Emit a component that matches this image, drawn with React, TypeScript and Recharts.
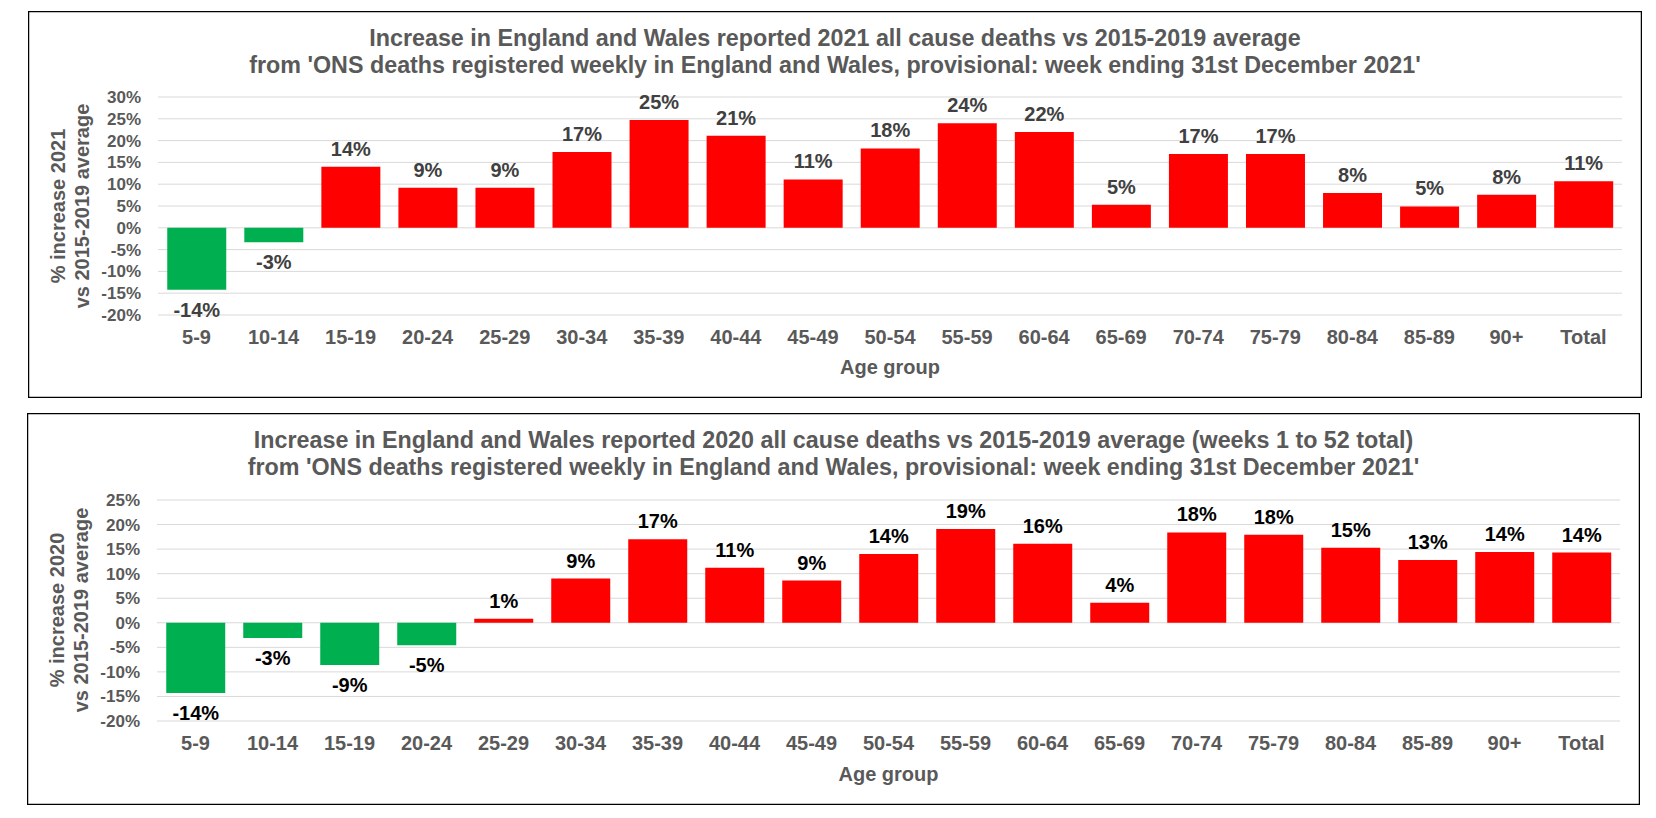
import React from "react";
import { BarChart, Bar, XAxis, YAxis, CartesianGrid, Cell, LabelList } from "recharts";

const ageGroups = [
  "5-9", "10-14", "15-19", "20-24", "25-29", "30-34", "35-39", "40-44", "45-49",
  "50-54", "55-59", "60-64", "65-69", "70-74", "75-79", "80-84", "85-89", "90+", "Total",
];

// % increase vs 2015-2019 average
const increase2021 = [
  -14.2, -3.3, 14.0, 9.2, 9.2, 17.4, 24.7, 21.1, 11.1,
  18.2, 24.0, 22.0, 5.3, 16.9, 16.9, 8.0, 4.9, 7.6, 10.7,
];
const increase2020 = [
  -14.3, -3.1, -8.6, -4.6, 0.8, 9.0, 17.0, 11.2, 8.6,
  14.0, 19.1, 16.1, 4.1, 18.4, 17.9, 15.3, 12.8, 14.4, 14.3,
];

const ticks2021 = [-20, -15, -10, -5, 0, 5, 10, 15, 20, 25, 30];
const ticks2020 = [-20, -15, -10, -5, 0, 5, 10, 15, 20, 25];

const FONT = '"Liberation Sans", Arial, sans-serif';
const GREY = "#595959";
const RED = "#FF0000";
const GREEN = "#00B050";

const makeLabel = (color: string) => (props: any) => {
  const vb = props.viewBox || props;
  const x = Number(vb.x), y = Number(vb.y);
  const w = Number(vb.width), h = Number(vb.height);
  const v = Number(props.value);
  const top = Math.min(y, y + h);
  const bottom = Math.max(y, y + h);
  const ty = v >= 0 ? top - 11 : bottom + 27;
  return (
    <text x={x + w / 2} y={ty} textAnchor="middle" fill={color}
      fontSize={20} fontWeight="bold" fontFamily={FONT}>
      {`${Math.round(v)}%`}
    </text>
  );
};

interface PanelProps {
  left: number; top: number; width: number; height: number;
  titles: string[];
  yTitle: string[];
  values: number[];
  ticks: number[];
  margin: { top: number; right: number; bottom: number; left: number };
  labelColor: string;
  yTitleY: number;
}

function Panel(p: PanelProps) {
  const data = ageGroups.map((age, i) => ({ age, value: p.values[i] }));
  const plotCx = 130 + (p.width - 130 - p.margin.right) / 2;
  return (
    <div style={{ position: "absolute", left: p.left, top: p.top, width: p.width, height: p.height }}>
      <div style={{ position: "absolute", left: 0, top: 0 }}>
        <BarChart width={p.width} height={p.height} data={data} margin={p.margin} barCategoryGap="12%">
          <CartesianGrid vertical={false} stroke="#D9D9D9" strokeWidth={1} />
          <XAxis
            dataKey="age"
            interval={0}
            axisLine={false}
            tickLine={false}
            tickMargin={9}
            height={40}
            tick={{ fontSize: 20, fontWeight: "bold", fill: GREY, fontFamily: FONT }}
          />
          <YAxis
            domain={[p.ticks[0], p.ticks[p.ticks.length - 1]]}
            ticks={p.ticks}
            interval={0}
            tickFormatter={(v: number) => `${v}%`}
            width={130}
            axisLine={false}
            tickLine={false}
            tickMargin={11}
            tick={{ fontSize: 17, fontWeight: "bold", fill: GREY, fontFamily: FONT }}
          />
          <Bar dataKey="value" isAnimationActive={false}>
            {data.map((d) => (
              <Cell key={d.age} fill={d.value < 0 ? GREEN : RED} />
            ))}
            <LabelList dataKey="value" content={makeLabel(p.labelColor)} />
          </Bar>
        </BarChart>
      </div>
      <svg width={p.width} height={p.height}
        style={{ position: "absolute", left: 0, top: 0, pointerEvents: "none" }}>
        <rect x={0.5} y={0.5} width={p.width - 1} height={p.height - 1} fill="none" stroke="#000" strokeWidth={1.5} />
        {p.titles.map((t, i) => (
          <text key={i} x={p.width / 2} y={35 + i * 27} textAnchor="middle" fill={GREY}
            fontSize={23.3} fontWeight="bold" fontFamily={FONT}>{t}</text>
        ))}
        {p.yTitle.map((t, i) => (
          <text key={i} x={0} y={0} textAnchor="middle" fill={GREY} fontSize={20} fontWeight="bold"
            fontFamily={FONT} transform={`translate(${37 + i * 24}, ${p.yTitleY}) rotate(-90)`}>{t}</text>
        ))}
        <text x={plotCx} y={p.height - 24} textAnchor="middle" fill={GREY} fontSize={20}
          fontWeight="bold" fontFamily={FONT}>Age group</text>
      </svg>
    </div>
  );
}

export default function App() {
  return (
    <div style={{ position: "absolute", left: 0, top: 0, width: 1656, height: 818, background: "#fff" }}>
      <Panel
        left={28} top={11} width={1614} height={387}
        titles={[
          "Increase in England and Wales reported 2021 all cause deaths vs 2015-2019 average",
          "from 'ONS deaths registered weekly in England and Wales, provisional: week ending 31st December 2021'",
        ]}
        yTitle={["% increase 2021", "vs 2015-2019 average"]}
        values={increase2021}
        ticks={ticks2021}
        margin={{ top: 86, right: 20, bottom: 43, left: 0 }}
        labelColor="#404040"
        yTitleY={195}
      />
      <Panel
        left={27} top={413} width={1613} height={392}
        titles={[
          "Increase in England and Wales reported 2020 all cause deaths vs 2015-2019 average (weeks 1 to 52 total)",
          "from 'ONS deaths registered weekly in England and Wales, provisional: week ending 31st December 2021'",
        ]}
        yTitle={["% increase 2020", "vs 2015-2019 average"]}
        values={increase2020}
        ticks={ticks2020}
        margin={{ top: 87, right: 20, bottom: 44, left: 0 }}
        labelColor="#000000"
        yTitleY={197}
      />
    </div>
  );
}
